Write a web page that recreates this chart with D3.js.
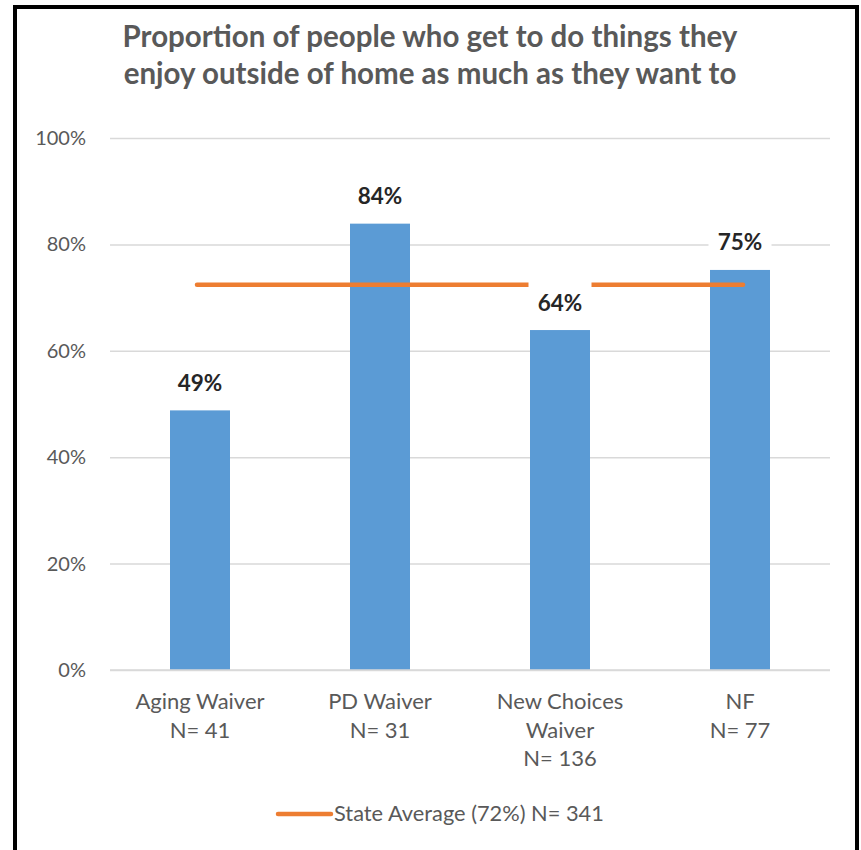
<!DOCTYPE html>
<html><head><meta charset="utf-8">
<script src="https://cdn.jsdelivr.net/npm/d3@7"></script>
<style>body{margin:0;background:#fff}svg{display:block}</style>
</head><body>
<svg id="c" width="861" height="850"></svg>
<script>
const categories = [["Aging Waiver","N= 41"],["PD Waiver","N= 31"],["New Choices","Waiver","N= 136"],["NF","N= 77"]];
const values = [48.8, 83.9, 63.9, 75.2];
const valueLabels = ["49%","84%","64%","75%"];
const stateAvg = 72.4;
const legendLabel = "State Average (72%) N= 341";
const yTicks = [0,20,40,60,80,100];
const titleLines = ["Proportion of people who get to do things they","enjoy outside of home as much as they want to"];

const svg = d3.select("#c");
const F = "Lato, 'Open Sans', sans-serif";
const gray = "#595959";
// border
svg.append("path").attr("d","M15,860 V7 H857 V860").attr("fill","none").attr("stroke","#000").attr("stroke-width",4);

svg.selectAll("text.title").data(titleLines).join("text").attr("class","title")
  .attr("x",430).attr("y",(d,i)=>47+i*37).attr("text-anchor","middle")
  .attr("font-family",F).attr("font-weight","bold").attr("font-size",29.5).attr("fill",gray).text(d=>d);

const x = d3.scaleBand().domain(d3.range(categories.length)).range([110,830]).paddingInner(2/3).paddingOuter(1/3);
const y = d3.scaleLinear().domain([0,100]).range([670,138]);

const yAxis = svg.append("g").attr("transform","translate(110,0)")
  .call(d3.axisLeft(y).tickValues(yTicks).tickSize(-720).tickFormat(d=>d+"%"));
yAxis.select(".domain").remove();
yAxis.selectAll(".tick line").attr("stroke","#d9d9d9").attr("stroke-width",1.5);
yAxis.selectAll(".tick text").attr("x",-24).attr("font-family",F).attr("font-size",20).attr("fill",gray);

svg.selectAll("rect.bar").data(values).join("rect").attr("class","bar")
  .attr("x",(d,i)=>x(i)).attr("width",x.bandwidth())
  .attr("y",d=>y(d)).attr("height",d=>y(0)-y(d)).attr("fill","#5B9BD5");

// state average line
const cx = i => x(i)+x.bandwidth()/2;
svg.append("line").attr("x1",cx(0)-3).attr("x2",cx(categories.length-1)+3)
  .attr("y1",y(stateAvg)).attr("y2",y(stateAvg))
  .attr("stroke","#ED7D31").attr("stroke-width",4.5).attr("stroke-linecap","round");

// data labels with white background (baseline 19.5px above bar top)
const lg = svg.selectAll("g.lbl").data(values).join("g").attr("class","lbl")
  .attr("transform",(d,i)=>`translate(${cx(i)},${y(d)-19.5})`);
lg.append("rect").attr("x",-31.5).attr("y",-29.5).attr("width",63).attr("height",38).attr("fill","#fff");
lg.append("text").attr("text-anchor","middle")
  .attr("font-family",F).attr("font-weight","bold").attr("font-size",22.5).attr("fill","#262626")
  .text((d,i)=>valueLabels[i]);

// x axis baseline
svg.append("line").attr("x1",110).attr("x2",830).attr("y1",y(0)).attr("y2",y(0)).attr("stroke","#d9d9d9").attr("stroke-width",1.5);

// category labels
const cg = svg.selectAll("text.cat").data(categories).join("text").attr("class","cat")
  .attr("x",(d,i)=>cx(i)).attr("y",709).attr("text-anchor","middle")
  .attr("font-family",F).attr("font-size",22).attr("fill",gray);
cg.selectAll("tspan").data(d=>d).join("tspan").attr("x",function(){return this.parentNode.getAttribute("x");})
  .attr("dy",(d,i)=>i?28.5:0).text(d=>d);

// legend
svg.append("line").attr("x1",278).attr("x2",331).attr("y1",814).attr("y2",814)
  .attr("stroke","#ED7D31").attr("stroke-width",4.5).attr("stroke-linecap","round");
svg.append("text").attr("x",334).attr("y",821).attr("font-family",F).attr("font-size",21.8).attr("fill",gray).text(legendLabel);
</script>
</body></html>
